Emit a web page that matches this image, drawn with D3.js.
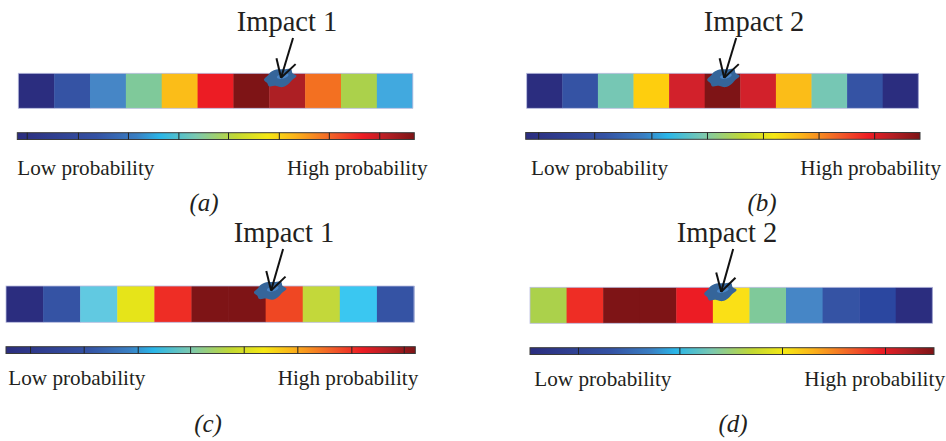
<!DOCTYPE html>
<html>
<head>
<meta charset="utf-8">
<script src="https://d3js.org/d3.v7.min.js"></script>
<style>
  html, body { margin: 0; padding: 0; background: #fff; }
</style>
</head>
<body>
<div id="d3container"></div>
<script>
// discrete probability levels, low -> high
var levelColors = ['#2b2d7f', '#2b47a0', '#3553a4', '#4686c6', '#41a9df', '#3ac7f1', '#61c9e1',
    '#76c7b4', '#7fc99a', '#abd14b', '#c3d83a', '#e6e419', '#fae016', '#fece0e', '#fbbd18',
    '#f37021', '#ef4723', '#ee2d25', '#ec1c24', '#d2212b', '#ad1f24', '#7e1416'];

// level of every cell in each strip
var stripA = [0, 2, 3, 8, 14, 18, 21, 20, 15, 9, 4];
var stripB = [0, 2, 7, 13, 19, 21, 19, 14, 7, 2, 0];
var stripC = [0, 2, 6, 11, 17, 21, 21, 16, 10, 5, 2];
var stripD = [9, 17, 21, 21, 18, 12, 8, 3, 2, 1, 0];

// impact location, in cell units along the strip
var impactPos = [7.3, 5.52, 7.12, 5.2];
var impactNames = ['Impact 1', 'Impact 2', 'Impact 1', 'Impact 2'];
var panelTags = ['(a)', '(b)', '(c)', '(d)'];

// colorbar divider positions (fraction of bar length)
var dividersA = [0.025, 0.154, 0.280, 0.407, 0.532, 0.660, 0.786, 0.913];
var dividersB = [0.033, 0.175, 0.320, 0.461, 0.603, 0.744, 0.885];
var dividersC = [0.060, 0.191, 0.323, 0.451, 0.582, 0.713, 0.845, 0.973];
var dividersD = [0.120, 0.371, 0.625, 0.880];

var lowLabel = 'Low probability';
var highLabel = 'High probability';

var jetStops = [
    [0, '#2b2d7f'], [0.2, '#3452a4'], [0.3, '#3a7fc3'], [0.36, '#2ab6e8'], [0.45, '#7ac8b0'],
    [0.55, '#c2d832'], [0.63, '#f5e814'], [0.7, '#fbb31a'], [0.8, '#f15a29'], [0.87, '#ed1c24'],
    [0.93, '#b51f24'], [1, '#7e1416']
];

// outline of the impact blob: relative radius going round
var blobOutline = [1, 0.92, 1.08, 0.9, 1.12, 0.95, 1.02, 1.1, 0.88, 1.06, 0.94, 1.1, 0.96, 1.04];

// layout of each panel (pixels)
var panels = [
    {cells: stripA, div: dividersA, sx: [18.3, 412.7], sy: 73.3, sh: 35,
        cx: [17.3, 414.3], cy: 132.7, lowX: 17.3, highX: 427.7, labY: 175,
        textX: 287, textY: 31, tagX: 204, tagY: 211},
    {cells: stripB, div: dividersB, sx: [526.7, 918.3], sy: 73.3, sh: 35,
        cx: [525.7, 920], cy: 132.5, lowX: 531, highX: 941, labY: 175,
        textX: 754, textY: 31, tagX: 762, tagY: 211},
    {cells: stripC, div: dividersC, sx: [6, 414], sy: 286, sh: 36.3,
        cx: [6, 415.3], cy: 346.7, lowX: 8.3, highX: 418.3, labY: 385,
        textX: 284, textY: 242, tagX: 208, tagY: 432},
    {cells: stripD, div: dividersD, sx: [530, 932.3], sy: 287.3, sh: 36,
        cx: [530, 934], cy: 347.7, lowX: 534.3, highX: 945, labY: 386,
        textX: 727, textY: 242, tagX: 733, tagY: 432}
];

var color = d3.scaleOrdinal()
    .domain(d3.range(levelColors.length))
    .range(levelColors);

var svg = d3.select('#d3container').append('svg')
    .attr('width', 946)
    .attr('height', 441)
    .style('font-family', '"Liberation Serif", "Times New Roman", serif');

var grad = svg.append('defs').append('linearGradient')
    .attr('id', 'jet')
    .attr('x1', '0%').attr('x2', '100%')
    .attr('y1', '0%').attr('y2', '0%');

grad.selectAll('stop')
    .data(jetStops)
    .enter()
    .append('stop')
    .attr('offset', function (d) { return d[0]; })
    .attr('stop-color', function (d) { return d[1]; });

var blobLine = d3.lineRadial()
    .angle(function (d, i) { return i / blobOutline.length * 2 * Math.PI; })
    .radius(function (d) { return d * 15; })
    .curve(d3.curveCardinalClosed);

panels.forEach(function (p, i) {
    var g = svg.append('g').attr('class', 'panel' + i);

    var x = d3.scaleLinear()
        .domain([0, p.cells.length])
        .range(p.sx);

    // strip cells
    g.selectAll('rect.cell')
        .data(p.cells)
        .enter()
        .append('rect')
        .attr('class', 'cell')
        .attr('x', function (d, j) { return x(j); })
        .attr('y', p.sy)
        .attr('width', function (d, j) { return x(j + 1) - x(j) + 0.4; })
        .attr('height', p.sh)
        .attr('fill', function (d) { return color(d); });

    g.append('rect')
        .attr('x', p.sx[0])
        .attr('y', p.sy)
        .attr('width', p.sx[1] - p.sx[0])
        .attr('height', p.sh)
        .attr('fill', 'none')
        .attr('stroke', '#b9bde0')
        .attr('stroke-width', 0.8);

    // impact blob
    var bx = x(impactPos[i]);
    var by = p.sy + 4.5;
    var blob = g.append('g')
        .attr('transform', 'translate(' + bx + ',' + by + ') rotate(-14)');
    blob.append('path')
        .attr('d', blobLine(blobOutline))
        .attr('transform', 'scale(1, 0.58)')
        .attr('fill', '#35659a');
    blob.append('ellipse')
        .attr('cx', 3)
        .attr('cy', -1)
        .attr('rx', 6)
        .attr('ry', 2.5)
        .attr('fill', '#4a86c8');

    // arrow from label down to blob
    var x0 = bx + 13, y0 = p.textY + 7;
    var x1 = bx + 1, y1 = by;
    var ang = Math.atan2(y0 - y1, x0 - x1);
    var head = 20, spread = Math.PI / 6;
    var arrowPts = [
        [[x0, y0], [x1, y1]],
        [[x1, y1], [x1 + head * Math.cos(ang - spread), y1 + head * Math.sin(ang - spread)]],
        [[x1, y1], [x1 + head * Math.cos(ang + spread), y1 + head * Math.sin(ang + spread)]]
    ];
    g.selectAll('path.arrow')
        .data(arrowPts)
        .enter()
        .append('path')
        .attr('class', 'arrow')
        .attr('d', d3.line())
        .attr('stroke', '#111')
        .attr('stroke-width', 2)
        .attr('fill', 'none');

    g.append('text')
        .attr('x', p.textX)
        .attr('y', p.textY)
        .attr('text-anchor', 'middle')
        .attr('font-size', 28.5)
        .attr('fill', '#231f20')
        .text(impactNames[i]);

    // colorbar
    var cb = d3.scaleLinear().domain([0, 1]).range(p.cx);
    g.append('rect')
        .attr('x', p.cx[0])
        .attr('y', p.cy)
        .attr('width', p.cx[1] - p.cx[0])
        .attr('height', 6.8)
        .attr('fill', 'url(#jet)')
        .attr('stroke', '#3a3a3a')
        .attr('stroke-width', 1);

    g.selectAll('line.div')
        .data(p.div)
        .enter()
        .append('line')
        .attr('class', 'div')
        .attr('x1', function (d) { return cb(d); })
        .attr('x2', function (d) { return cb(d); })
        .attr('y1', p.cy)
        .attr('y2', p.cy + 6.8)
        .attr('stroke', '#222')
        .attr('stroke-width', 1);

    g.append('text')
        .attr('x', p.lowX)
        .attr('y', p.labY)
        .attr('font-size', 21.2)
        .attr('fill', '#231f20')
        .text(lowLabel);

    g.append('text')
        .attr('x', p.highX)
        .attr('y', p.labY)
        .attr('text-anchor', 'end')
        .attr('font-size', 21.2)
        .attr('fill', '#231f20')
        .text(highLabel);

    g.append('text')
        .attr('x', p.tagX)
        .attr('y', p.tagY)
        .attr('text-anchor', 'middle')
        .attr('font-size', 25)
        .attr('font-style', 'italic')
        .attr('fill', '#231f20')
        .text(panelTags[i]);
});
</script>
</body>
</html>
